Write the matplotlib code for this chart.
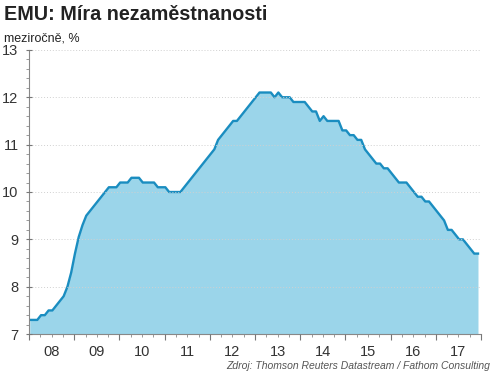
import numpy as np
import matplotlib
matplotlib.use("Agg")
import matplotlib.pyplot as plt
from matplotlib.ticker import MultipleLocator, FixedLocator, NullFormatter

# monthly unemployment rate, Jan 2008 - Dec 2017
start_year = 2008
rate = [
    7.3, 7.3, 7.3, 7.4, 7.4, 7.5, 7.5, 7.6, 7.7, 7.8, 8.0, 8.3,
    8.7, 9.05, 9.3, 9.5, 9.6, 9.7, 9.8, 9.9, 10.0, 10.1, 10.1, 10.1,
    10.2, 10.2, 10.2, 10.3, 10.3, 10.3, 10.2, 10.2, 10.2, 10.2, 10.1, 10.1,
    10.1, 10.0, 10.0, 10.0, 10.0, 10.1, 10.2, 10.3, 10.4, 10.5, 10.6, 10.7,
    10.8, 10.9, 11.1, 11.2, 11.3, 11.4, 11.5, 11.5, 11.6, 11.7, 11.8, 11.9,
    12.0, 12.1, 12.1, 12.1, 12.1, 12.0, 12.1, 12.0, 12.0, 12.0, 11.9, 11.9,
    11.9, 11.9, 11.8, 11.7, 11.7, 11.5, 11.6, 11.5, 11.5, 11.5, 11.5, 11.3,
    11.3, 11.2, 11.2, 11.1, 11.1, 10.9, 10.8, 10.7, 10.6, 10.6, 10.5, 10.5,
    10.4, 10.3, 10.2, 10.2, 10.2, 10.1, 10.0, 9.9, 9.9, 9.8, 9.8, 9.7,
    9.6, 9.5, 9.4, 9.2, 9.2, 9.1, 9.0, 9.0, 8.9, 8.8, 8.7, 8.7,
]
year_labels = ["08", "09", "10", "11", "12", "13", "14", "15", "16", "17"]

x = start_year + (np.arange(len(rate)) + 0.2) / 12.0

plt.rcParams['font.family'] = ['Liberation Sans', 'DejaVu Sans']

fig = plt.figure(figsize=(5, 3.75), dpi=100)
ax = fig.add_axes([0.058, 0.109, 0.904, 0.758])

ax.fill_between(x, rate, 7, color="#9BD5EA", lw=0)
ax.plot(x, rate, color="#1A8DC0", lw=1.7, solid_joinstyle="round")

ax.set_xlim(start_year, start_year + len(year_labels))
ax.set_ylim(7, 13)

# y axis
ax.yaxis.set_major_locator(MultipleLocator(1))
ax.yaxis.set_minor_locator(MultipleLocator(0.2))
ax.tick_params(axis="y", which="major", length=5, width=0.8, color="#777777",
               direction="inout", labelsize=10.5, labelcolor="#333333", pad=5)
ax.tick_params(axis="y", which="minor", length=2, width=0.6, color="#888888")
ax.grid(axis="y", which="major", color="#d0d0d0", lw=0.7, ls=(0, (1, 2)))
ax.set_axisbelow(False)

# x axis: year boundaries major, quarters minor, labels centred in each year
year_edges = np.arange(start_year, start_year + len(year_labels) + 1)
ax.xaxis.set_major_locator(FixedLocator(year_edges))
ax.xaxis.set_major_formatter(NullFormatter())
ax.xaxis.set_minor_locator(FixedLocator(year_edges[0] + np.arange(0, 40) * 0.25))
ax.tick_params(axis="x", which="major", length=4, width=0.8, color="#777777")
ax.tick_params(axis="x", which="minor", length=2, width=0.6, color="#888888")
for i, lab in enumerate(year_labels):
    ax.text(start_year + i + 0.5, -0.04, lab, transform=ax.get_xaxis_transform(),
            ha="center", va="top", fontsize=10.5, color="#333333")

for side in ["top", "right"]:
    ax.spines[side].set_visible(False)
for side in ["left", "bottom"]:
    ax.spines[side].set_color("#888888")
    ax.spines[side].set_linewidth(0.8)

fig.text(0.008, 0.96, "EMU: Míra nezaměstnanosti", fontsize=14.2,
         fontweight="bold", color="#222222", va="center", ha="left")
fig.text(0.008, 0.898, "meziročně, %", fontsize=9, color="#222222",
         va="center", ha="left")
fig.text(0.98, 0.025, "Zdroj: Thomson Reuters Datastream / Fathom Consulting",
         fontsize=7.5, style="italic", color="#555555", ha="right", va="center")

fig.savefig("out.png", dpi=100)
